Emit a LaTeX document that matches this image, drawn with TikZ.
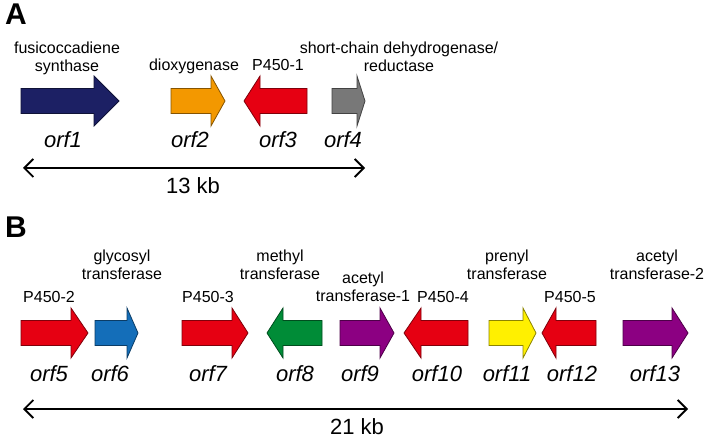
\documentclass[tikz,border=0pt]{standalone}
\usepackage{fontspec}
\setmainfont{Liberation Sans}
\usetikzlibrary{arrows.meta}

\definecolor{genenavy}{RGB}{28,32,100}
\definecolor{geneorange}{RGB}{243,152,0}
\definecolor{genered}{RGB}{230,0,18}
\definecolor{genegray}{RGB}{120,120,120}
\definecolor{geneblue}{RGB}{20,110,185}
\definecolor{genegreen}{RGB}{0,140,55}
\definecolor{genepurple}{RGB}{140,0,130}
\definecolor{geneyellow}{RGB}{255,240,0}

\begin{document}
\begin{tikzpicture}[x=1pt,y=-1pt,
  gene/.style={draw=#1!55!black, fill=#1, line width=0.8pt},
  func/.style={font=\fontsize{16}{18}\selectfont, align=center, inner sep=0pt},
  orflabel/.style={font=\fontsize{22}{26}\selectfont\itshape, inner sep=0pt, anchor=base},
  kb/.style={font=\fontsize{22}{26}\selectfont, inner sep=0pt, anchor=base},
  panel/.style={font=\fontsize{30}{30}\selectfont\bfseries, inner sep=0pt},
  scalebar/.style={{Straight Barb[length=9pt,width=18pt]}-{Straight Barb[length=9pt,width=18pt]}, line width=1.8pt}]
  \useasboundingbox (0,0) rectangle (709,438);

  % panel A
  \node[panel] (panelA) at (16,14) {A};
  \foreach \tail/\tip/\head/\col in {21/119/94/genenavy, 171/225/211/geneorange,
      307/244/260/genered, 332/365/357/genegray}
    \filldraw[gene=\col] (\tail,88.5) -- (\head,88.5) -- (\head,76) -- (\tip,101)
      -- (\head,126) -- (\head,113.5) -- (\tail,113.5) -- cycle;
  \node[func, anchor=north] (fus) at (67,42) {fusicoccadiene\\synthase};
  \node[func, anchor=base] (diox) at (194,71) {dioxygenase};
  \node[func, anchor=base] (pA) at (278,71) {P450-1};
  \node[func, anchor=north] (sdr) at (399,42) {short-chain dehydrogenase/\\reductase};
  \foreach \x/\n in {63/1, 190/2, 278/3, 343/4}
    \node[orflabel] (orf\n) at (\x,148) {orf\n};
  \coordinate (aleft) at (23,168);
  \coordinate (aright) at (365,168);
  \draw[scalebar] (aleft) -- (aright);
  \node[kb] (kbA) at (193,194) {13 kb};

  % panel B
  \node[panel] (panelB) at (16,227) {B};
  \foreach \tail/\tip/\head/\col in {21/88/71/genered, 95/138/127/geneblue,
      182/248/232/genered, 322/267/283/genegreen, 340/394/380/genepurple,
      468/404/421/genered, 489/536/523/geneyellow, 596/542/556/genered,
      623/688/672/genepurple}
    \filldraw[gene=\col] (\tail,320.5) -- (\head,320.5) -- (\head,308) -- (\tip,333)
      -- (\head,358) -- (\head,345.5) -- (\tail,345.5) -- cycle;
  \node[func, anchor=base] (pB) at (49,302) {P450-2};
  \node[func, anchor=north] (glyc) at (122,250) {glycosyl\\transferase};
  \node[func, anchor=base] (pC) at (208,302) {P450-3};
  \node[func, anchor=north] (meth) at (280,250) {methyl\\transferase};
  \node[func, anchor=north] (acetA) at (363,272) {acetyl\\transferase-1};
  \node[func, anchor=base] (pD) at (443,302) {P450-4};
  \node[func, anchor=north] (pren) at (507,250) {prenyl\\transferase};
  \node[func, anchor=base] (pE) at (570,302) {P450-5};
  \node[func, anchor=north] (acetB) at (657,250) {acetyl\\transferase-2};
  \foreach \x/\n in {49/5, 110/6, 208/7, 295/8, 360/9, 437/10, 507/11, 572/12, 655/13}
    \node[orflabel] (orf\n) at (\x,381) {orf\n};
  \coordinate (bleft) at (23,409);
  \coordinate (bright) at (688,409);
  \draw[scalebar] (bleft) -- (bright);
  \node[kb] (kbB) at (357,434) {21 kb};
\end{tikzpicture}
\end{document}
